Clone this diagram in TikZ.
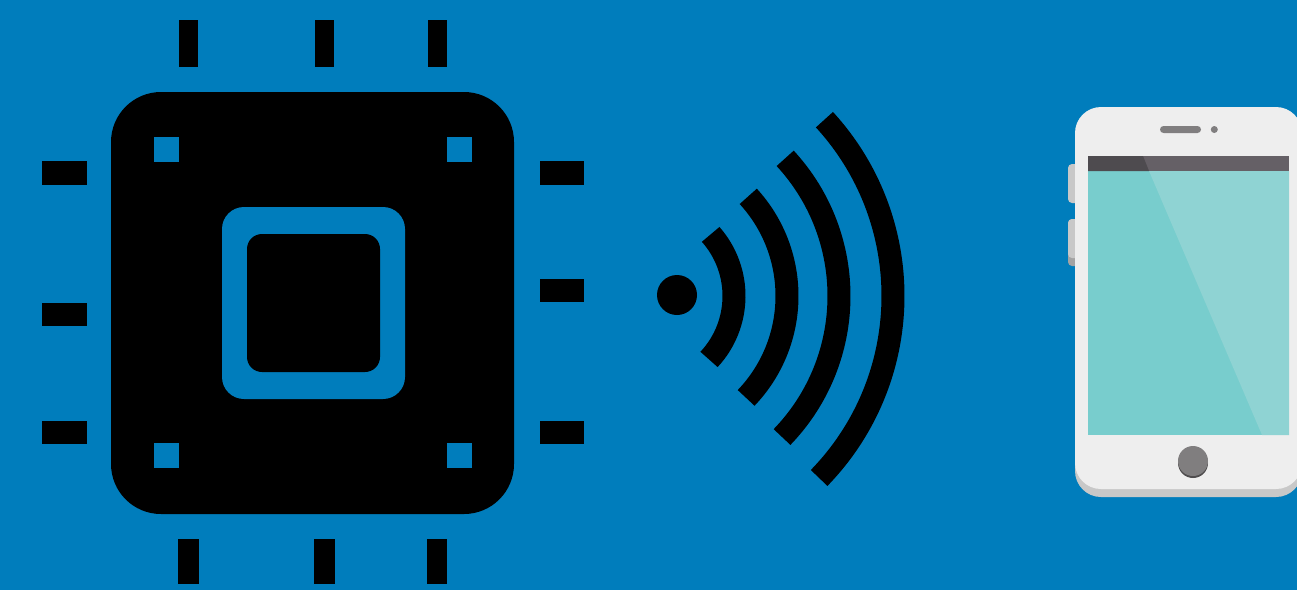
\documentclass[tikz,border=0pt]{standalone}
\definecolor{bg}{HTML}{007DBC}
\definecolor{screenc}{HTML}{78CDCD}
\definecolor{glare}{HTML}{8FD3D3}
\definecolor{barc}{HTML}{656066}
\definecolor{bardark}{HTML}{4E4B4F}
\definecolor{bodyc}{HTML}{EEEEEE}
\definecolor{shadowc}{HTML}{C8C8C8}
\definecolor{sideshadow}{HTML}{A3A3A3}
\definecolor{btn}{HTML}{807E7F}
\definecolor{btndark}{HTML}{4F4D4E}
\tikzset{
  pin/.style={fill=black},
  hole/.style={fill=bg},
  wave/.style={draw=black,line width=23pt,line cap=butt}
}
\newcommand{\pinbox}[4]{\fill[pin] (#1,#2) rectangle (#3,#4);}
\newcommand{\holebox}[2]{\fill[hole] (#1,#2) rectangle ++(25,25);}
\newcommand{\wavearc}[4]{\draw[wave] ({#1+#2*cos(#3)},{296+#2*sin(#3)}) arc[start angle=#3,end angle=#4,radius=#2];}
\begin{document}
\begin{tikzpicture}[x=1pt,y=-1pt]
\useasboundingbox (0,0) rectangle (1297,590);
\fill[bg] (0,0) rectangle (1297,590);
% chip pins
\pinbox{179}{20}{198}{67}\pinbox{315}{20}{334}{67}\pinbox{428}{20}{447}{67}
\pinbox{178}{539}{199}{584}\pinbox{314}{539}{335}{584}\pinbox{427}{539}{447}{584}
\pinbox{42}{161}{87}{185}\pinbox{42}{303}{87}{326}\pinbox{42}{421}{87}{444}
\pinbox{540}{161}{584}{185}\pinbox{540}{279}{584}{302}\pinbox{540}{421}{584}{444}
% chip body
\fill[black,rounded corners=50pt] (111,92) rectangle (514,514);
\holebox{154}{137}\holebox{447}{137}\holebox{154}{443}\holebox{447}{443}
\fill[hole,rounded corners=22pt] (222,207) rectangle (405,399);
\fill[black,rounded corners=15pt] (247,234) rectangle (380,372);
% signal
\fill[black] (677,295) circle[radius=20];
\wavearc{641}{93}{-41.5}{43}
\wavearc{639.5}{147.5}{-42.5}{43.7}
\wavearc{636}{203}{-42.7}{44}
\wavearc{632}{261}{-42.5}{44.2}
% phone side buttons
\fill[sideshadow,rounded corners=4pt] (1068,219) rectangle (1080,266);
\fill[shadowc,rounded corners=4pt] (1068,164) rectangle (1080,203);
\fill[shadowc,rounded corners=4pt] (1068,219) rectangle (1080,258);
% phone body
\fill[shadowc,rounded corners=26pt] (1075,150) rectangle (1302,497);
\fill[bodyc,rounded corners=26pt] (1075,107) rectangle (1302,489);
% screen
\fill[screenc] (1088,171) rectangle (1289,435);
\fill[glare] (1149,171) -- (1289,171) -- (1289,435) -- (1262,435) -- cycle;
\fill[barc] (1088,156) rectangle (1289,171);
\fill[bardark] (1088,156) -- (1143,156) -- (1149,171) -- (1088,171) -- cycle;
% speaker
\fill[btn,rounded corners=3.5pt] (1160,126) rectangle (1201,133);
\fill[btn] (1214.3,129.5) circle[radius=3.5];
% home button
\fill[btndark] (1193,463) circle[radius=15];
\fill[btn] (1193,461) circle[radius=15];
\end{tikzpicture}
\end{document}
